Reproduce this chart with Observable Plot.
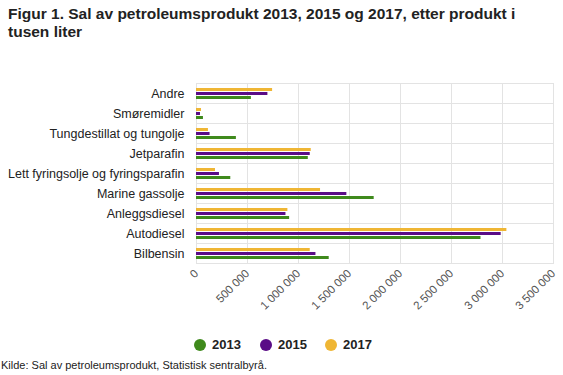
<!DOCTYPE html>
<html>
<head>
<meta charset="utf-8">
<script src="https://cdn.jsdelivr.net/npm/d3@7"></script>
<script src="https://cdn.jsdelivr.net/npm/@observablehq/plot@0.6"></script>
<style>
  body { margin: 0; width: 563px; height: 375px; overflow: hidden; background: #fff; font-family: "Liberation Sans", Arial, sans-serif; position: relative; }
  #title { position: absolute; left: 8px; top: 5px; font-size: 15.5px; font-weight: bold; line-height: 18px; color: #222; width: 545px; }
  #chart { position: absolute; left: 0; top: 50px; }
  #legend { position: absolute; top: 337px; left: 0; width: 563px; height: 16px; }
  .li { position: absolute; top: 0; font-size: 13px; font-weight: bold; color: #222; line-height: 16px; }
  .dot { display: inline-block; width: 12px; height: 12px; border-radius: 50%; vertical-align: -2px; margin-right: 6px; }
  #caption { position: absolute; left: 1px; top: 359px; font-size: 11px; color: #222; }
</style>
</head>
<body>
<div id="title">Figur 1. Sal av petroleumsprodukt 2013, 2015 og 2017, etter produkt i tusen liter</div>
<div id="chart"></div>
<div id="legend"></div>
<div id="caption">Kilde: Sal av petroleumsprodukt, Statistisk sentralbyrå.</div>
<script>
const categories = ["Andre", "Smøremidler", "Tungdestillat og tungolje", "Jetparafin", "Lett fyringsolje og fyringsparafin", "Marine gassolje", "Anleggsdiesel", "Autodiesel", "Bilbensin"];
const years = ["2013", "2015", "2017"];
const v2013 = [538000, 68000, 391000, 1096000, 336000, 1742000, 913000, 2789000, 1301000];
const v2015 = [700000, 39000, 133000, 1115000, 225000, 1474000, 877000, 2987000, 1171000];
const v2017 = [746000, 49000, 117000, 1125000, 186000, 1216000, 896000, 3043000, 1115000];
const xTicks = [0, 500000, 1000000, 1500000, 2000000, 2500000, 3000000, 3500000];
const colors = ["#3f8a1c", "#5a0c86", "#efb634"];

const series = [v2013, v2015, v2017];
const data = [];
categories.forEach((c, i) => years.forEach((y, j) => data.push({category: c, year: y, value: series[j][i]})));

const fmt = d => d3.format(",")(d).replace(/,/g, " ");

const chart = Plot.plot({
  width: 563,
  height: 280,
  marginTop: 32,
  marginBottom: 67,
  marginLeft: 196,
  marginRight: 10,
  style: {fontFamily: "Liberation Sans, Arial, sans-serif", background: "transparent"},
  x: {domain: [0, 3500000], ticks: xTicks, tickFormat: fmt, label: null, tickRotate: -45, tickSize: 0, tickPadding: 8},
  fy: {domain: categories, padding: 0, label: null, tickSize: 0, tickPadding: 12},
  y: {domain: ["2017", "2015", "2013"], axis: null, paddingInner: 0.33, paddingOuter: 0.72},
  color: {domain: years, range: colors},
  marks: [
    Plot.gridX(xTicks, {stroke: "#e3e3e3", strokeOpacity: 1}),
    Plot.frame({stroke: "#e3e3e3", strokeOpacity: 1}),
    Plot.barX(data, {fy: "category", y: "year", x: "value", fill: "year"})
  ]
});
document.getElementById("chart").appendChild(chart);

// style axes text
chart.querySelectorAll("[aria-label='fy-axis tick label'] text, [aria-label='fy-axis'] text").forEach(t => { t.setAttribute("font-size", "12.5"); t.setAttribute("fill", "#222"); });
chart.querySelectorAll("[aria-label='x-axis tick label'] text, [aria-label='x-axis'] text").forEach(t => { t.setAttribute("font-size", "11.5"); t.setAttribute("fill", "#555"); });

const legend = document.getElementById("legend");
const lx = [194, 260, 325];
years.forEach((y, i) => {
  const d = document.createElement("div");
  d.className = "li";
  d.style.left = lx[i] + "px";
  d.innerHTML = `<span class="dot" style="background:${colors[i]}"></span>${y}`;
  legend.appendChild(d);
});
</script>
</body>
</html>
